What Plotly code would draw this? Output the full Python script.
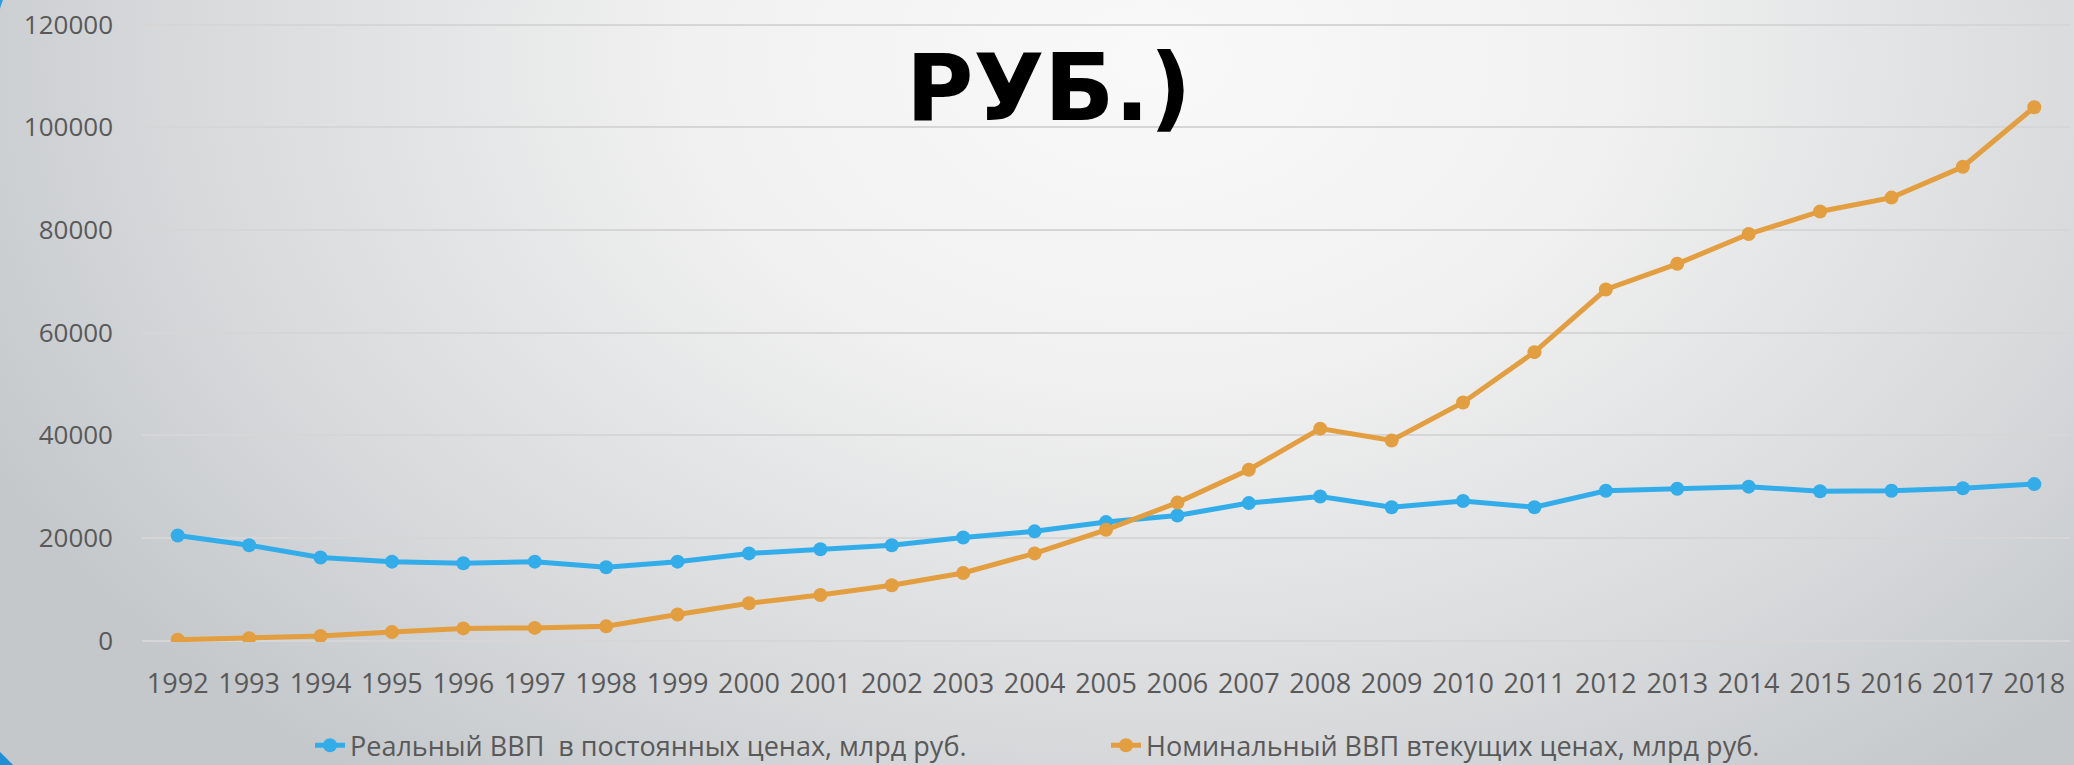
import base64
import plotly.graph_objects as go

years = [str(y) for y in range(1992, 2019)]
real_gdp = [20500, 18600, 16200, 15400, 15100, 15400, 14300, 15400, 17000, 17800,
            18600, 20100, 21300, 23100, 24400, 26800, 28100, 26000, 27200, 26000,
            29200, 29600, 30000, 29100, 29200, 29700, 30500]
nominal_gdp = [200, 500, 900, 1700, 2400, 2500, 2800, 5100, 7300, 8900,
               10800, 13200, 17000, 21600, 26900, 33300, 41300, 39000, 46400, 56200,
               68400, 73400, 79200, 83600, 86300, 92300, 103900]
y_ticks = [0, 20000, 40000, 60000, 80000, 100000, 120000]
name_real = "Реальный ВВП  в постоянных ценах, млрд руб."
name_nominal = "Номинальный ВВП втекущих ценах, млрд руб."
title_tail = "РУБ.)"

W, H = 2074, 765
ML, MR, MT, MB = 142, 4, 23, 123
PW, PH = W - ML - MR, H - MT - MB

svg = f'''<svg xmlns="http://www.w3.org/2000/svg" width="{W}" height="{H}" viewBox="0 0 {W} {H}" preserveAspectRatio="none">
<defs>
<radialGradient id="g" gradientUnits="userSpaceOnUse" cx="1150" cy="60" r="1300"
 gradientTransform="translate(1150 60) scale(1 0.7) translate(-1150 -60)">
<stop offset="0" stop-color="#f9f9f9"/>
<stop offset="0.35" stop-color="#f1f1f1"/>
<stop offset="0.75" stop-color="#d7d9db"/>
<stop offset="1" stop-color="#c4c8ca"/>
</radialGradient>
</defs>
<rect x="0" y="0" width="{W}" height="{H}" fill="url(#g)"/>
<circle cx="-300" cy="-100" r="319" fill="#2a9fe0"/>
<circle cx="-300" cy="1065" r="433.6" fill="#1f8fd6"/>
</svg>'''
src = "data:image/svg+xml;base64," + base64.b64encode(svg.encode("utf-8")).decode()

BLUE = "#33adea"
ORANGE = "#e39e3f"

fig = go.Figure()
fig.add_trace(go.Scatter(x=years, y=real_gdp, name=name_real, mode="lines+markers",
                         line=dict(color=BLUE, width=5), marker=dict(size=14, color=BLUE)))
fig.add_trace(go.Scatter(x=years, y=nominal_gdp, name=name_nominal, mode="lines+markers",
                         line=dict(color=ORANGE, width=5), marker=dict(size=14, color=ORANGE)))

fig.update_layout(
    width=W, height=H,
    margin=dict(l=ML, r=MR, t=MT, b=MB, pad=0, autoexpand=False),
    paper_bgcolor="rgba(0,0,0,0)",
    plot_bgcolor="rgba(0,0,0,0)",
    font=dict(family="Open Sans", color="#595959"),
    showlegend=True,
    legend=dict(orientation="h", x=(310 - ML) / PW, xanchor="left", y=-0.1675, yanchor="middle",
                font=dict(size=27, color="#595959"), entrywidth=751, bgcolor="rgba(0,0,0,0)"),
    xaxis=dict(type="category", range=[-0.5, 26.5], showgrid=False, showline=False,
               ticks="", tickfont=dict(size=27, color="#595959"), ticklabelstandoff=23,
               zeroline=False),
    yaxis=dict(range=[-250, 120300], tickvals=y_ticks, ticktext=[str(v) for v in y_ticks],
               showgrid=True, gridcolor="#d6d6d6", gridwidth=2, zeroline=False,
               showline=False, ticks="", tickfont=dict(size=26, color="#595959"),
               ticklabelstandoff=28),
    images=[dict(source=src, xref="paper", yref="paper", x=-ML / PW, y=1 + MT / PH,
                 sizex=W / PW, sizey=H / PH, xanchor="left", yanchor="top",
                 sizing="stretch", layer="below")],
    annotations=[dict(text=title_tail, xref="paper", yref="paper",
                      x=(1048 - ML) / PW, y=1 + (MT - 88) / PH, xanchor="center",
                      yanchor="middle", showarrow=False,
                      font=dict(family="DejaVu Sans", size=92, color="#000000", weight="bold"))],
)

fig.write_html("out.html", config={"displayModeBar": False},
               post_script="document.body.style.margin='0';document.body.style.overflow='hidden';")
